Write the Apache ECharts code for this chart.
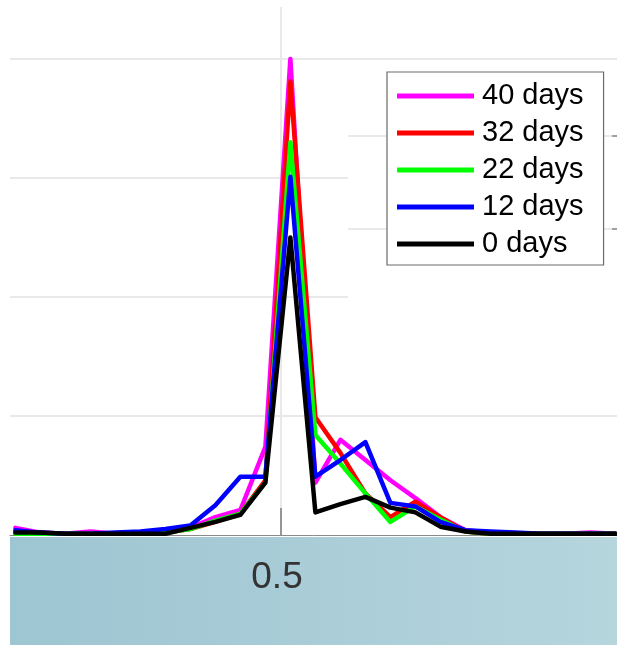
<!DOCTYPE html>
<html>
<head>
<meta charset="utf-8">
<script src="https://cdn.jsdelivr.net/npm/echarts@6/dist/echarts.min.js"></script>
<style>
html,body{margin:0;padding:0;background:#fff;}
#chart{width:617px;height:645px;}
</style>
</head>
<body>
<div id="chart"></div>
<script>
// bin centres (x values)
var xValues = [0.075,0.115,0.155,0.195,0.235,0.275,0.315,0.355,0.395,0.435,0.475,0.515,0.555,0.595,0.635,0.675,0.715,0.755,0.795,0.835,0.875,0.915,0.955,0.995,1.035];
var seriesNames = ['40 days','32 days','22 days','12 days','0 days'];
var seriesColors = ['#ff00ff','#ff0000','#00ff00','#0000ff','#000000'];
var days40 = [0.006,0.002,0.001,0.003,0.001,0.002,0.003,0.006,0.015,0.021,0.074,0.400,0.044,0.080,0.063,0.046,0.031,0.015,0.004,0.002,0.001,0.001,0.001,0.002,0.001];
var days32 = [0.001,0.001,0.001,0.001,0.001,0.001,0.002,0.005,0.011,0.018,0.046,0.381,0.099,0.069,0.035,0.015,0.028,0.015,0.003,0.001,0.001,0.001,0.001,0.001,0.001];
var days22 = [0.001,0.001,0.001,0.001,0.001,0.001,0.002,0.005,0.012,0.018,0.044,0.330,0.084,0.060,0.035,0.011,0.024,0.013,0.003,0.001,0.001,0.001,0.001,0.001,0.001];
var days12 = [0.004,0.002,0.001,0.001,0.002,0.003,0.005,0.008,0.025,0.049,0.049,0.301,0.049,0.063,0.078,0.027,0.024,0.011,0.004,0.003,0.002,0.001,0.001,0.001,0.001];
var days0  = [0.002,0.002,0.001,0.001,0.001,0.001,0.001,0.006,0.011,0.017,0.044,0.250,0.019,0.026,0.032,0.023,0.019,0.007,0.003,0.001,0.001,0.001,0.001,0.001,0.001];
var xTickLabels = [0.5];

var allData = [days40, days32, days22, days12, days0];
function pairs(arr){ return arr.map(function(v,i){ return [xValues[i], v]; }); }

var chart = echarts.init(document.getElementById('chart'), null, {renderer:'canvas'});
var gridLineStyle = {color:'#e9e9e9', width:2};
var yMax = 0.4437;
var option = {
  animation:false,
  backgroundColor:'#ffffff',
  textStyle:{fontFamily:'Liberation Sans, Arial, sans-serif'},
  graphic:[{
    type:'rect', z:-5,
    shape:{x:10, y:537, width:607, height:108},
    style:{fill:new echarts.graphic.LinearGradient(0,0,1,0,[
      {offset:0,color:'#9dc5d2'},{offset:1,color:'#b6d5dd'}])}
  }],
  grid:[
    {left:10, right:0, top:7, height:528},
    {left:10, width:338, top:7, height:528},
    {left:348, right:0, top:7, height:528}
  ],
  xAxis:[
    {type:'value', gridIndex:0, min:0.0664, max:1.0376,
     axisLine:{show:true, lineStyle:{color:'#8a8a8a', width:1}},
     axisTick:{show:true, inside:true, length:27, customValues:xTickLabels, lineStyle:{color:'#7a7a7a', width:1.5}},
     axisLabel:{show:true, customValues:xTickLabels, fontSize:37, color:'#333333', margin:24, padding:[0,8,0,0],
       fontFamily:'Liberation Sans, Arial, sans-serif', formatter:function(v){return String(v);}},
     splitLine:{show:true, lineStyle:gridLineStyle}},
    {type:'value', gridIndex:1, min:0, max:1, show:false},
    {type:'value', gridIndex:2, min:0, max:1, show:false}
  ],
  yAxis:[
    {type:'value', gridIndex:0, min:0, max:yMax,
     axisLine:{show:false}, axisLabel:{show:false},
     axisTick:{show:false, customValues:[0.1,0.4]},
     splitLine:{show:true, lineStyle:gridLineStyle}},
    {type:'value', gridIndex:1, min:0, max:yMax,
     axisLine:{show:false}, axisLabel:{show:false},
     axisTick:{show:false, customValues:[0.2,0.3]},
     splitLine:{show:true, lineStyle:gridLineStyle}},
    {type:'value', gridIndex:2, min:0, max:yMax, position:'right',
     axisLine:{show:false, onZero:false}, axisLabel:{show:false},
     axisTick:{show:true, inside:true, length:5, customValues:[0.3353,0.2571], lineStyle:{color:'#888888', width:1.5}},
     splitLine:{show:true, lineStyle:gridLineStyle}}
  ],
  legend:{
    data:seriesNames, orient:'vertical', left:387, top:72,
    backgroundColor:'#ffffff', borderColor:'#6a6a6a', borderWidth:1.2,
    padding:[9,20,6,10], itemGap:7, itemWidth:77, itemHeight:5, icon:'rect',
    textStyle:{fontSize:29, lineHeight:30, color:'#000', fontFamily:'Liberation Sans, Arial, sans-serif', padding:[0,0,0,3]}
  },
  series: seriesNames.map(function(n,i){
    return {
      name:n, type:'line', xAxisIndex:0, yAxisIndex:0,
      data:pairs(allData[i]), showSymbol:false, symbol:'none',
      lineStyle:{color:seriesColors[i], width:4.5, cap:'round', join:'round'},
      itemStyle:{color:seriesColors[i]},
      z:2+i
    };
  })
};
chart.setOption(option);
</script>
</body>
</html>
